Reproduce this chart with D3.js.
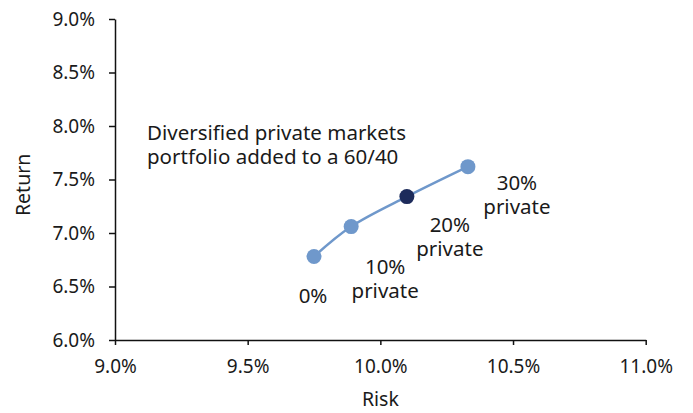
<!DOCTYPE html>
<html>
<head>
<meta charset="utf-8">
<script src="https://cdn.jsdelivr.net/npm/d3@7"></script>
<style>
  html, body { margin: 0; padding: 0; background: #fff; }
  svg { display: block; }
  text { font-family: "Noto Sans", "Open Sans", sans-serif; fill: #1a1a1a; }
</style>
</head>
<body>
<svg id="chart" width="693" height="413"></svg>
<script>
// ---- data ----
const labels = ["0%", "10%\nprivate", "20%\nprivate", "30%\nprivate"];
const risk   = [9.75, 9.89, 10.10, 10.33];
const ret    = [6.78, 7.06, 7.34, 7.62];
const highlight = [false, false, true, false];
const xTicks = [9.0, 9.5, 10.0, 10.5, 11.0];
const yTicks = [6.0, 6.5, 7.0, 7.5, 8.0, 8.5, 9.0];
const annotation = ["Diversified private markets", "portfolio added to a 60/40"];

// ---- layout ----
const svg = d3.select("#chart");
const x = d3.scaleLinear().domain([9.0, 11.0]).range([115, 645.7]);
const y = d3.scaleLinear().domain([6.0, 9.0]).range([340, 19]);
const light = "#6f98cb", dark = "#1d2b5b";

// axes
const xAxis = d3.axisBottom(x).tickValues(xTicks).tickFormat(d => d.toFixed(1) + "%")
  .tickSizeInner(5).tickSizeOuter(0).tickPadding(15);
const yAxis = d3.axisLeft(y).tickValues(yTicks).tickFormat(d => d.toFixed(1) + "%")
  .tickSizeInner(6).tickSizeOuter(0).tickPadding(14);

const gx = svg.append("g").attr("transform", `translate(0,${y(6.0)})`).call(xAxis);
const gy = svg.append("g").attr("transform", `translate(${x(9.0)},0)`).call(yAxis);
[gx, gy].forEach(g => {
  g.selectAll("path, line").attr("stroke", "#111").attr("stroke-width", 1.5);
  g.selectAll("text").style("font-size", "19px").attr("fill", "#1a1a1a");
});

// axis titles
svg.append("text").attr("x", x(10.0)).attr("y", 406).attr("text-anchor", "middle")
  .style("font-size", "19.5px").text("Risk");
svg.append("text").attr("transform", `translate(30,${y(7.45)}) rotate(-90)`)
  .attr("text-anchor", "middle").style("font-size", "19.5px").text("Return");

// line
const pts = risk.map((r, i) => [x(r), y(ret[i])]);
svg.append("path").attr("d", d3.line().curve(d3.curveCatmullRom.alpha(0.5))(pts))
  .attr("fill", "none").attr("stroke", light).attr("stroke-width", 2.5);

// points
svg.selectAll("circle.pt").data(pts).join("circle").attr("class", "pt")
  .attr("cx", d => d[0]).attr("cy", d => d[1]).attr("r", 7.5)
  .attr("fill", (d, i) => highlight[i] ? dark : light);

// point labels (offsets relative to each point)
const offs = [[-1, 46], [34, 47], [43, 35], [49, 23]];
labels.forEach((lab, i) => {
  const t = svg.append("text").attr("text-anchor", "middle").style("font-size", "20.5px");
  lab.split("\n").forEach((ln, j) => {
    t.append("tspan").attr("x", pts[i][0] + offs[i][0])
      .attr("y", pts[i][1] + offs[i][1] + j * 24).text(ln);
  });
});

// annotation
const ann = svg.append("text").style("font-size", "20.5px");
annotation.forEach((ln, j) => {
  ann.append("tspan").attr("x", 147).attr("y", 140 + j * 23.5).text(ln);
});
</script>
</body>
</html>
